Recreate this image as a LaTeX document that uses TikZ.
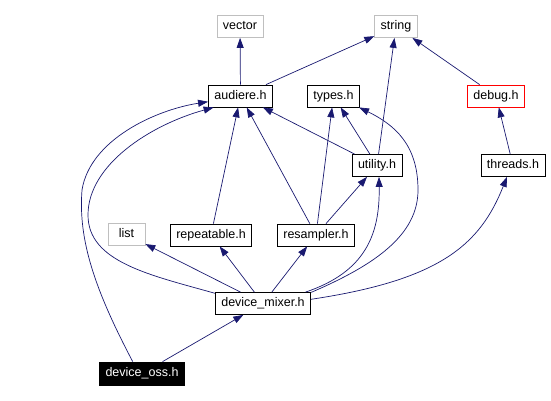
\documentclass[tikz,border=0pt]{standalone}
\usepackage{fontspec}
\setmainfont{Liberation Sans}
\usetikzlibrary{arrows.meta}

\definecolor{edgeblue}{RGB}{25,25,112}
\definecolor{extgrey}{RGB}{191,191,191}

\begin{document}
\begin{tikzpicture}[x=1pt,y=-1pt,
  file/.style={rectangle, draw=black, line width=0.8pt, inner xsep=6pt, inner ysep=0pt,
    minimum height=22pt, text height=9pt, text depth=2.5pt, font=\fontsize{12.5}{14}\selectfont},
  ext/.style={file, draw=extgrey},
  dep/.style={draw=edgeblue, line width=0.7pt, -{Triangle[length=10pt,width=7pt]}}]
  \useasboundingbox (0,0) rectangle (551,401);

  \foreach\name/\x/\y/\txt in {audiere/240.5/96/audiere.h, types/333.5/96/types.h,
      utility/377/165.5/utility.h, threads/513/165.5/threads.h,
      repeatable/211/235/repeatable.h, resampler/316/235/resampler.h,
      mixer/263/303.5/device\_mixer.h}{
  	\node[file] (\name) at (\x, \y) {\txt};
  }
  \node[ext] (vector) at (240, 26.5) {vector};
  \node[ext] (string) at (396, 26.5) {string};
  \node[ext, minimum width=37pt] (list) at (126.5, 234.5) {list};
  \node[file, draw=red] (debug) at (496, 96) {debug.h};
  \node[file, fill=black, text=white, minimum height=23pt] (oss) at (142, 373.5) {device\_oss.h};

  \foreach\from/\to in {audiere/vector, audiere/string, utility/string, debug/string,
      utility/audiere, utility/types, repeatable/audiere, resampler/audiere,
      resampler/types, resampler/utility, threads/debug, mixer/list,
      mixer/repeatable, mixer/resampler, oss/mixer}{
      \draw[dep] (\from) -- (\to);
  }

  % curved ones
  \draw[dep] (oss.128) .. controls (95, 290) and (78, 240) .. (82, 190)
      .. controls (90, 140) and (155, 110) .. (audiere.190);
  \draw[dep] (mixer.168) .. controls (150, 275) and (88, 262) .. (88, 215)
      .. controls (88, 165) and (150, 125) .. (audiere.203);
  \draw[dep] (mixer.13) .. controls (375, 265) and (418, 235) .. (418, 190)
      .. controls (418, 145) and (395, 125) .. (types.-24);
  \draw[dep] (mixer.15) .. controls (365, 272) and (380, 235) .. (utility.-80);
  \draw[dep] (mixer.5) .. controls (440, 280) and (480, 245) .. (threads.242);
\end{tikzpicture}
\end{document}
